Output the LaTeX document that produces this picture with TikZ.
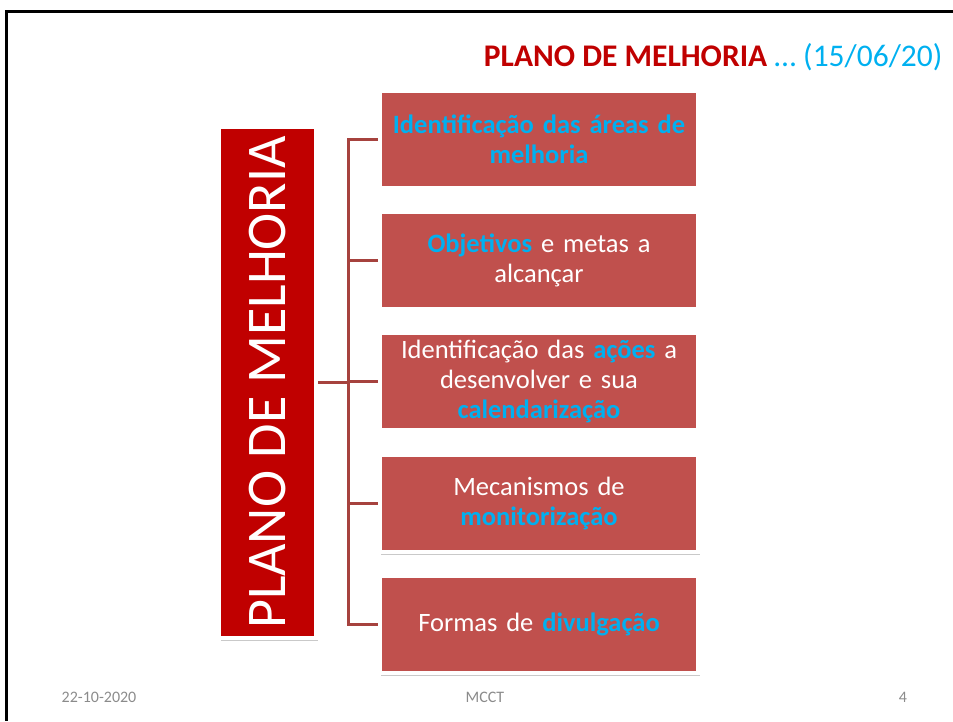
\documentclass[tikz,border=0pt]{standalone}
\usepackage{fontspec}
\setmainfont{Carlito}
\usetikzlibrary{positioning,shadows}

\definecolor{mainred}{HTML}{C00000}
\definecolor{itemred}{HTML}{C0504D}
\definecolor{hiblue}{HTML}{00B0F0}
\definecolor{connred}{RGB}{166,66,62}
\definecolor{footgray}{HTML}{8B8B8B}

\newcommand{\realce}[1]{\textcolor{hiblue}{\textbf{#1}}}

\tikzset{
    boxshadow/.style={drop shadow={shadow xshift=1.5pt, shadow yshift=-2.5pt, opacity=.3, fill=black!70}},
    itembox/.style={draw=white, line width=4pt, fill=itemred, boxshadow,
        minimum width=318pt, minimum height=97pt, text width=312pt,
        align=center, text=white, font=\fontsize{26.5}{30}\selectfont},
    conn/.style={draw=connred, line width=3pt},
    foot/.style={text=footgray, font=\fontsize{16}{18}\selectfont}
}

\begin{document}
\begin{tikzpicture}[x=1pt, y=1pt]
        \useasboundingbox (0,0) rectangle (953,721);

        % Frame
        \draw[line width=3pt] (953,709.5) -- (6.5,709.5) -- (6.5,0);

        % Title
        \node[anchor=base east, font=\fontsize{31.5}{36}\selectfont] (title) at (946,654)
            {\textcolor{mainred}{\textbf{PLANO DE MELHORIA}} \textcolor{hiblue}{\dots{} (15/06/20)}};

        % Main box (rotated)
        \node[draw=white, line width=4pt, fill=mainred, boxshadow, rotate=90,
              minimum width=511pt, minimum height=97pt, inner sep=0pt,
              text=white, font=\fontsize{56}{60}\selectfont] (plano) at (267.5,338.5)
            {PLANO DE MELHORIA};

        % Items
        \node[itembox] (areas) at (539,581.5)
            {\realce{Identificação das áreas de}\\\realce{melhoria}};
        \node[itembox] (objetivos) at (539,460.5)
            {\realce{Objetivos} e metas a\\alcançar};
        \node[itembox] (acoes) at (539,339.5)
            {Identificação das \realce{ações} a\\desenvolver e sua\\\realce{calendarização}};
        \node[itembox] (monitor) at (539,217.5)
            {Mecanismos de\\\realce{monitorização}};
        \node[itembox] (divulg) at (539,96.5)
            {Formas de \realce{divulgação}};

        % Connectors
        \coordinate (trunk) at (348,0);
        \draw[conn] (plano.south) -- (plano.south -| trunk);
        \draw[conn] (areas.west) -- (areas.west -| trunk) -- (divulg.west -| trunk) -- (divulg.west);
        \foreach \b in {objetivos,acoes,monitor}
            \draw[conn] (\b.west) -- (\b.west -| trunk);

        % Footer
        \node[foot] (data) at (99,24) {22-10-2020};
        \node[foot] (mcct) at (485,24) {MCCT};
        \node[foot] (pagina) at (903,24) {4};
\end{tikzpicture}
\end{document}
